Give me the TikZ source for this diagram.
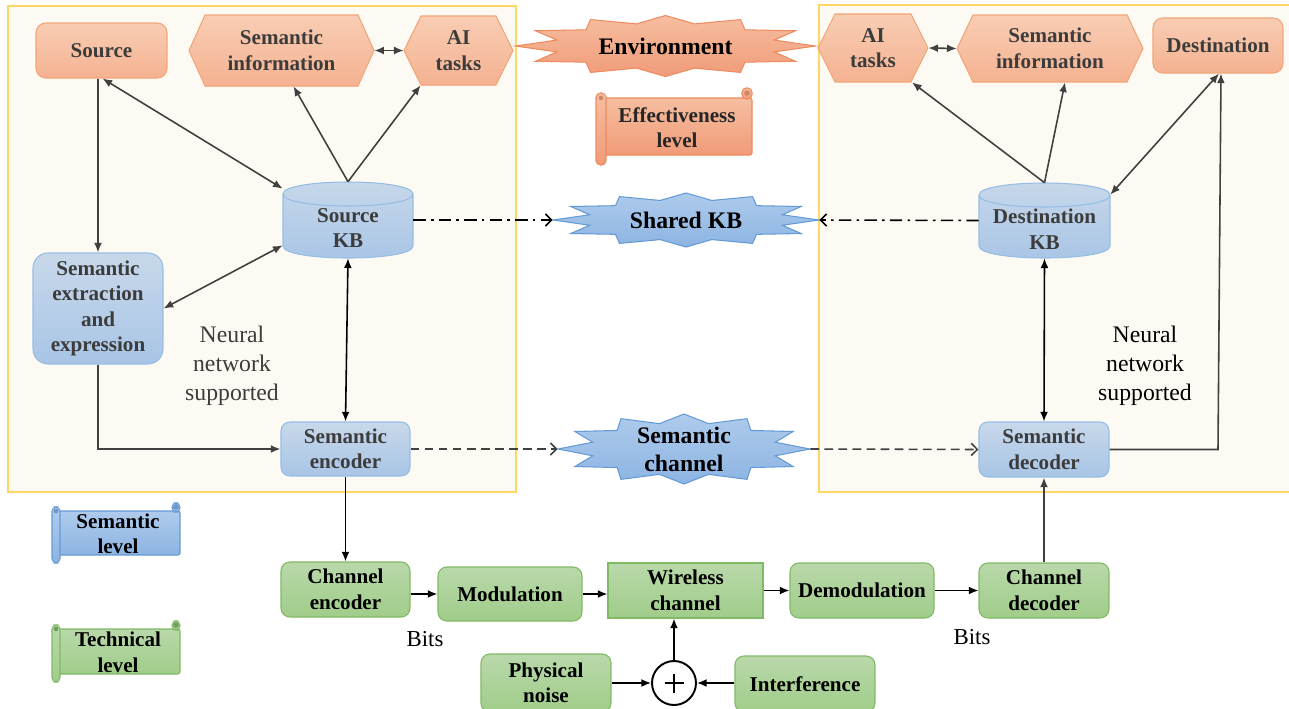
\documentclass[tikz,border=0pt]{standalone}
\usepackage{fontspec}
\setmainfont{Liberation Serif}
\usetikzlibrary{arrows.meta,calc}
\definecolor{panelfill}{RGB}{253,250,244}
\definecolor{panelline}{RGB}{255,214,100}
\definecolor{oTop}{RGB}{248,205,180}
\definecolor{oBot}{RGB}{245,178,145}
\definecolor{oLine}{RGB}{242,165,120}
\definecolor{eTop}{RGB}{246,190,160}
\definecolor{eBot}{RGB}{240,155,120}
\definecolor{eLine}{RGB}{238,140,95}
\definecolor{eCurl}{RGB}{205,135,105}
\definecolor{bTop}{RGB}{200,216,234}
\definecolor{bBot}{RGB}{168,197,230}
\definecolor{bLine}{RGB}{150,190,228}
\definecolor{sbTop}{RGB}{175,203,236}
\definecolor{sbBot}{RGB}{140,180,226}
\definecolor{sbLine}{RGB}{100,155,215}
\definecolor{sbCurl}{RGB}{110,150,200}
\definecolor{gTop}{RGB}{185,216,170}
\definecolor{gBot}{RGB}{160,205,138}
\definecolor{gLine}{RGB}{130,185,100}
\definecolor{gCurl}{RGB}{110,160,90}
\definecolor{txtgray}{RGB}{60,60,60}
\definecolor{arrgray}{RGB}{64,64,64}

\newcommand\hexa[5]{\path[hexst] (#1,{(#2+#4)/2}) -- ({#1+#5},#2) -- ({#3-#5},#2) -- (#3,{(#2+#4)/2}) -- ({#3-#5},#4) -- ({#1+#5},#4) -- cycle;}
\newcommand\cyl[5]{%
 \path[cylst] (#1,{#2+#5}) -- (#1,{#4-#5}) .. controls (#1,{#4+#5/3}) and (#3,{#4+#5/3}) .. (#3,{#4-#5}) -- (#3,{#2+#5}) .. controls (#3,{#2-#5/3}) and (#1,{#2-#5/3}) .. (#1,{#2+#5}) -- cycle;
 \draw[draw=bLine, line width=0.6pt] (#1,{#2+#5}) .. controls (#1,{#2+7*#5/3}) and (#3,{#2+7*#5/3}) .. (#3,{#2+#5});}
\newcommand\starb[5]{\path[#5] ({#1+#3},#2) \foreach \a in {15,45,...,345} { -- ({#1+0.75*#3*cos(\a)},{#2+0.75*#4*sin(\a)}) -- ({#1+#3*cos(\a+15)},{#2+#4*sin(\a+15)}) } -- cycle;}
% x0 y0 x1 y1 r style curlcolor
\newcommand\scrollb[7]{%
 \path[#6, rounded corners=1.2pt] ({#1+#5/2},{#2+#5}) rectangle (#3,{#4-#5});
 \path[#6, rounded corners=2.5pt] ({#3-#5},#2) rectangle (#3,{#2+#5+1});
 \path[#6, rounded corners=2.5pt] (#1,{#2+#5/2}) rectangle ({#1+#5},#4);
 \fill[#7] ({#3-#5/2},{#2+#5/2}) circle (1.6pt);
 \fill[#7] ({#1+#5/2},{#2+#5}) circle (1.3pt);}

\begin{document}
\begin{tikzpicture}[x=0.02cm,y=-0.02cm,
  btxt/.style={font=\bfseries\fontsize{12}{14.5}\selectfont, align=center, inner sep=0pt},
  obox/.style={btxt, text=txtgray, draw=oLine, line width=0.6pt, top color=oTop, bottom color=oBot, rounded corners=5.5pt},
  bbox/.style={btxt, text=txtgray, draw=bLine, line width=0.6pt, top color=bTop, bottom color=bBot, rounded corners=5pt},
  gbox/.style={btxt, text=black, draw=gLine, line width=0.6pt, top color=gTop, bottom color=gBot, rounded corners=5pt},
  hexst/.style={draw=oLine, line width=0.6pt, top color=oTop, bottom color=oBot},
  cylst/.style={draw=bLine, line width=0.6pt, top color=bTop, bottom color=bBot},
  hold/.style={btxt, text=txtgray, draw=none},
  startxt/.style={font=\bfseries\fontsize{13.5}{16}\selectfont, align=center, inner sep=0pt, text=black},
  neur/.style={font=\fontsize{13.5}{16.4}\selectfont, align=center, inner sep=0pt},
  arr/.style={draw=arrgray, line width=0.9pt, -{Latex[length=5.5pt,width=4.5pt]}},
  darr/.style={draw=arrgray, line width=0.9pt, {Latex[length=5.5pt,width=4.5pt]}-{Latex[length=5.5pt,width=4.5pt]}},
  barr/.style={draw=black, line width=0.9pt, -{Latex[length=5.5pt,width=4.5pt]}},
  dbarr/.style={draw=black, line width=0.9pt, {Latex[length=5.5pt,width=4.5pt]}-{Latex[length=5.5pt,width=4.5pt]}},
  dasharr/.style={draw=arrgray, line width=0.9pt, dash pattern=on 5pt off 3pt, -{Straight Barb[length=3.5pt,width=7pt]}},
  dotarr/.style={draw=black, line width=0.9pt, dash pattern=on 7pt off 3pt on 1.5pt off 3pt, -{Straight Barb[length=3.5pt,width=7pt]}}
]
\useasboundingbox (0,0) rectangle (1289,708);
\fill[white] (0,0) rectangle (1289,708);

% panels
\path[fill=panelfill, draw=panelline, line width=0.8pt] (8,6) rectangle (516,492);
\path[fill=panelfill, draw=panelline, line width=0.8pt] (819,5) rectangle (1300,492);

% stars
\starb{665.5}{46}{150}{30.5}{draw=eLine, line width=0.6pt, top color=eTop, bottom color=eBot}
\starb{686}{220}{133}{27}{draw=sbLine, line width=0.6pt, top color=sbTop, bottom color=sbBot}
\starb{684}{449}{126}{35}{draw=sbLine, line width=0.6pt, top color=sbTop, bottom color=sbBot}

% scrolls
\scrollb{596}{88}{752}{165}{10}{draw=eLine, line width=0.6pt, top color=eTop, bottom color=eBot}{eCurl}
\scrollb{52}{503}{180}{563}{8}{draw=sbLine, line width=0.6pt, top color=sbTop, bottom color=sbBot}{sbCurl}
\scrollb{52}{621}{180}{682}{8}{draw=gLine, line width=0.6pt, top color=gTop, bottom color=gBot}{gCurl}

% hexagons
\hexa{189}{15}{374}{86}{16}
\hexa{404}{16}{513}{85}{17}
\hexa{818}{14}{928}{82}{17}
\hexa{957}{15}{1143}{82}{16}

% cylinders
\cyl{283}{182}{413}{258}{12}
\cyl{979}{183}{1110}{258}{12}

% nodes
\node[obox, minimum width=2.62cm, minimum height=1.1cm] (src) at (101.5,50.5) {Source};
\node[hold, minimum width=3.7cm, minimum height=1.42cm] (si) at (281.5,50.5) {Semantic\\information};
\node[hold, minimum width=2.18cm, minimum height=1.38cm] (ait) at (458.5,50.5) {AI\\tasks};
\node[hold, minimum width=2.2cm, minimum height=1.36cm] (ait2) at (873,48) {AI\\tasks};
\node[hold, minimum width=3.72cm, minimum height=1.34cm] (si2) at (1050,48.5) {Semantic\\information};
\node[obox, minimum width=2.6cm, minimum height=1.1cm] (dest) at (1218,45.5) {Destination};

\node[startxt, minimum width=6cm] (env) at (665.5,46) {Environment};
\node[btxt, text=black!85] (effl) at (677,127.5) {Effectiveness\\level};
\node[startxt, minimum width=5.32cm] (shkb) at (686,220) {Shared KB};
\node[startxt, minimum width=5.04cm] (schan) at (684,449) {Semantic\\channel};

\node[draw=none, minimum width=2.6cm, minimum height=1.52cm] (skb) at (348,220) {};
\node[hold] (skbt) at (348,228) {Source\\KB};
\node[draw=none, minimum width=2.62cm, minimum height=1.5cm] (dkb) at (1044.5,220.5) {};
\node[hold] (dkbt) at (1044.5,229) {Destination\\KB};

\node[bbox, rounded corners=8.5pt, minimum width=2.6cm, minimum height=2.22cm] (sext) at (98,308.5) {Semantic\\extraction\\and\\expression};
\node[bbox, minimum width=2.58cm, minimum height=1.08cm] (senc) at (345.5,449) {Semantic\\encoder};
\node[bbox, minimum width=2.6cm, minimum height=1.1cm] (sdec) at (1044,449.5) {Semantic\\decoder};

\node[neur, text=txtgray] (nnl) at (232,366) {Neural\\network\\supported};
\node[neur, text=black] (nnr) at (1145,366) {Neural\\network\\supported};

\node[btxt, text=black] (seml) at (118,534) {Semantic\\level};
\node[btxt, text=black] (tecl) at (118,652.5) {Technical\\level};

\node[gbox, minimum width=2.58cm, minimum height=1.1cm] (cenc) at (345.5,589.5) {Channel\\encoder};
\node[gbox, minimum width=2.88cm, minimum height=1.08cm] (mod) at (510,594) {Modulation};
\node[gbox, rounded corners=0pt, minimum width=3.1cm, minimum height=1.1cm] (wc) at (685.5,590.5) {Wireless\\channel};
\node[gbox, minimum width=2.88cm, minimum height=1.1cm] (demod) at (862,590.5) {Demodulation};
\node[gbox, minimum width=2.6cm, minimum height=1.1cm] (cdec) at (1044,590.5) {Channel\\decoder};
\node[gbox, minimum width=2.6cm, minimum height=1.16cm] (pn) at (546,683) {Physical\\noise};
\node[gbox, minimum width=2.8cm, minimum height=1.12cm] (intf) at (805,684) {Interference};
\node[circle, draw=black, line width=1.1pt, fill=white, minimum size=0.88cm, inner sep=0pt] (plus) at (674,683) {};
\draw[line width=1.4pt] ([shift={(-9.5,0)}]plus.center) -- ([shift={(9.5,0)}]plus.center);
\draw[line width=1.4pt] ([shift={(0,-9.5)}]plus.center) -- ([shift={(0,9.5)}]plus.center);

\node[neur, font=\fontsize{13}{15}\selectfont] (bitsl) at (425,639) {Bits};
\node[neur, font=\fontsize{13}{15}\selectfont] (bitsr) at (972,637) {Bits};

% connectors
\draw[arr] (src.south -| sext.north) -- (sext.north);
\draw[darr] ([shift={(1,0)}]src.south) -- ([shift={(0,7)}]skb.north west);
\draw[arr] (skb.north) -- ([shift={(12,0)}]si.south);
\draw[arr] (skb.north) -- ([shift={(-38,0)}]ait.south);
\draw[darr] (si.east) -- (ait.west);
\draw[darr] (sext.east) -- ([shift={(0,-13)}]skb.south west);
\draw[dbarr] (skb.south) -- (senc.north);
\draw[arr] (sext.south) -- (sext.south |- senc.west) -- (senc.west);
\draw[dotarr] (skb.east |- shkb.west) -- (shkb.west);
\draw[dotarr] (dkb.west) -- (shkb.east);
\draw[dasharr] (senc.east) -- (schan.west);
\draw[dasharr] (schan.east) -- (sdec.west);
\draw[barr] (senc.south) -- (cenc.north);
\draw[barr] (cenc.east |- mod.west) -- (mod.west);
\draw[barr] (mod.east) -- (mod.east -| wc.west);
\draw[barr] (wc.east) -- (wc.east -| demod.west);
\draw[barr] (demod.east) -- (demod.east -| cdec.west);
\draw[arr] (cdec.north) -- (sdec.south);
\draw[barr] (pn.east |- plus.west) -- (plus.west);
\draw[barr] (intf.west |- plus.east) -- (plus.east);
\draw[barr] (plus.north) -- (plus.north |- wc.south);
\draw[arr] (sdec.east) -- (sdec.east -| dest.south) -- ([shift={(3,0)}]dest.south);
\draw[darr] ([shift={(0,12)}]dkb.north east) -- ([shift={(1,0)}]dest.south);
\draw[arr] (dkb.north) -- ([shift={(39,0)}]ait2.south);
\draw[arr] (dkb.north) -- ([shift={(15,0)}]si2.south);
\draw[dbarr] (dkb.south) -- (sdec.north);
\draw[darr] (ait2.east) -- (si2.west);
\end{tikzpicture}
\end{document}
